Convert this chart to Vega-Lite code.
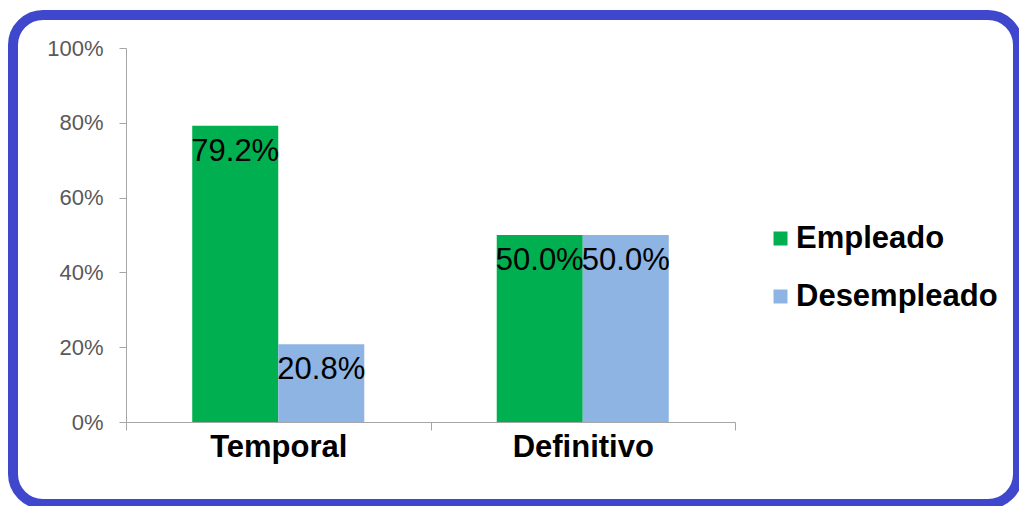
{
  "$schema": "https://vega.github.io/schema/vega-lite/v6.json",
  "width": 1005,
  "height": 489,
  "autosize": "none",
  "padding": {"left": 13, "top": 15, "right": 1, "bottom": 2},
  "background": "white",
  "config": {
    "view": {"stroke": "#3F48CC", "strokeWidth": 10, "cornerRadius": 30, "fill": "white"},
    "font": "Liberation Sans"
  },
  "data": {
    "values": [
      {"tipo": "Temporal", "estado": "Empleado", "valor": 0.792},
      {"tipo": "Temporal", "estado": "Desempleado", "valor": 0.208},
      {"tipo": "Definitivo", "estado": "Empleado", "valor": 0.5},
      {"tipo": "Definitivo", "estado": "Desempleado", "valor": 0.5}
    ]
  },
  "encoding": {
    "x": {
      "field": "tipo",
      "type": "nominal",
      "sort": ["Temporal", "Definitivo"],
      "scale": {"range": [113, 722], "paddingInner": 0, "paddingOuter": 0},
      "axis": {
        "title": null,
        "orient": "bottom",
        "offset": -82,
        "tickBand": "extent",
        "tickSize": 8,
        "tickColor": "#A6A6A6",
        "domainColor": "#A6A6A6",
        "labelAngle": 0,
        "labelFontSize": 31,
        "labelFontWeight": "bold",
        "labelColor": "#000000",
        "labelPadding": 2
      }
    },
    "xOffset": {
      "field": "estado",
      "type": "nominal",
      "sort": ["Empleado", "Desempleado"],
      "scale": {"paddingInner": 0, "paddingOuter": 0.77}
    },
    "y": {
      "field": "valor",
      "type": "quantitative",
      "scale": {"domain": [0, 1], "range": [407, 33], "nice": false, "zero": true},
      "axis": {
        "title": null,
        "offset": -113,
        "values": [0, 0.2, 0.4, 0.6, 0.8, 1],
        "format": ".0%",
        "grid": false,
        "tickSize": 7,
        "tickColor": "#A6A6A6",
        "domainColor": "#A6A6A6",
        "labelFontSize": 22,
        "labelColor": "#595959",
        "labelPadding": 16
      }
    }
  },
  "layer": [
    {
      "mark": {"type": "bar"},
      "encoding": {
        "color": {
          "field": "estado",
          "type": "nominal",
          "sort": ["Empleado", "Desempleado"],
          "scale": {"domain": ["Empleado", "Desempleado"], "range": ["#00B050", "#8DB4E2"]},
          "legend": {
            "title": null,
            "orient": "none",
            "legendX": 752,
            "legendY": 208,
            "padding": 0,
            "symbolType": "square",
            "symbolSize": 196,
            "symbolStrokeWidth": 0,
            "labelFontSize": 31,
            "labelFontWeight": "bold",
            "labelColor": "#000000",
            "labelOffset": 0,
            "rowPadding": 26,
            "labelLimit": 400
          }
        }
      }
    },
    {
      "mark": {"type": "text", "baseline": "top", "dy": 11, "fontSize": 31, "color": "#000000"},
      "encoding": {
        "text": {"field": "valor", "type": "quantitative", "format": ".1%"}
      }
    }
  ]
}
